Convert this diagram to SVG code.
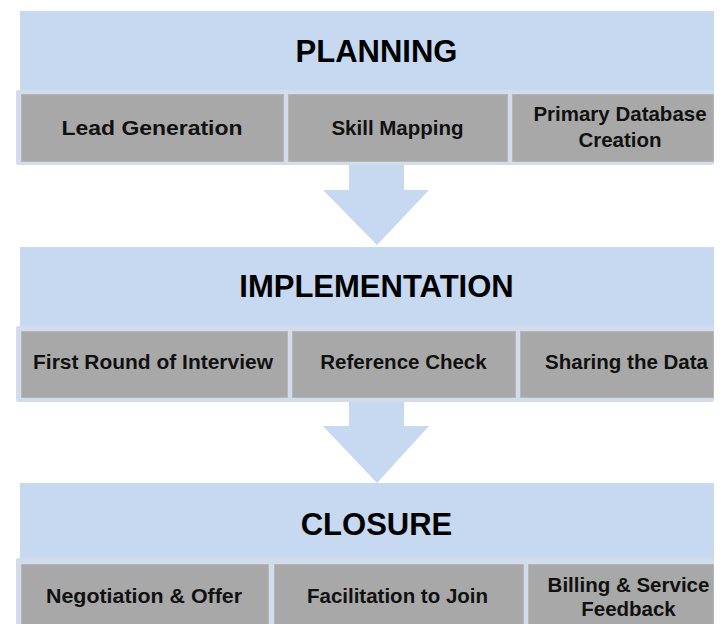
<svg xmlns="http://www.w3.org/2000/svg" width="724" height="624" viewBox="0 0 724 624">
<style>
.hdr{fill:#C6D9F1}
.frame{fill:#D3DCEA}
.box{fill:#A8A8A8;stroke:#B4B6BA;stroke-width:1}
.arrow{fill:#C6D9F1}
.ht{font-family:"Liberation Sans",Arial,sans-serif;font-weight:bold;font-size:31px;fill:#000;text-anchor:middle}
.bt{font-family:"Liberation Sans",Arial,sans-serif;font-weight:bold;font-size:20.5px;fill:#111;text-anchor:middle}
</style>
<rect width="724" height="624" fill="#fff"/>
<g id="connectors">
<path class="arrow" d="M349 160 H404 V190 H429 L377 245 L323 190 H349 Z"/>
<path class="arrow" d="M349 396 H404 V426 H429 L377 483 L323 426 H349 Z"/>
</g>
<g id="planning">
<rect class="hdr" x="20" y="11" width="694" height="83"/>
<text class="ht" x="376.5" y="62">PLANNING</text>
<rect class="frame" x="16" y="90" width="698" height="75" rx="2"/>
</g>
<g id="lead-generation">
<rect class="box" x="21.5" y="94.5" width="262" height="67"/>
<text class="bt" x="152" y="135" textLength="181" lengthAdjust="spacingAndGlyphs">Lead Generation</text>
</g>
<g id="skill-mapping">
<rect class="box" x="288.5" y="94.5" width="219" height="67"/>
<text class="bt" x="397.5" y="135">Skill Mapping</text>
</g>
<g id="primary-database-creation">
<rect class="box" x="512.5" y="94.5" width="201" height="67"/>
<text class="bt" x="620" y="121">Primary Database</text>
<text class="bt" x="620" y="147">Creation</text>
</g>
<g id="implementation">
<rect class="hdr" x="20" y="247" width="694" height="83"/>
<text class="ht" x="376.5" y="297">IMPLEMENTATION</text>
<rect class="frame" x="16" y="326" width="698" height="76" rx="2"/>
</g>
<g id="first-round-of-interview">
<rect class="box" x="21.5" y="331.5" width="266" height="66"/>
<text class="bt" x="153" y="369" textLength="240" lengthAdjust="spacingAndGlyphs">First Round of Interview</text>
</g>
<g id="reference-check">
<rect class="box" x="292.5" y="331.5" width="223" height="66"/>
<text class="bt" x="403.5" y="369">Reference Check</text>
</g>
<g id="sharing-the-data">
<rect class="box" x="520.5" y="331.5" width="193" height="66"/>
<text class="bt" x="626.5" y="369">Sharing the Data</text>
</g>
<g id="closure">
<rect class="hdr" x="20" y="483" width="694" height="80"/>
<text class="ht" x="376.5" y="535">CLOSURE</text>
<rect class="frame" x="16" y="558" width="698" height="70" rx="2"/>
</g>
<g id="negotiation-offer">
<rect class="box" x="21.5" y="564.5" width="247" height="66"/>
<text class="bt" x="144" y="603" textLength="196" lengthAdjust="spacingAndGlyphs">Negotiation &amp; Offer</text>
</g>
<g id="facilitation-to-join">
<rect class="box" x="274.5" y="564.5" width="249" height="66"/>
<text class="bt" x="397.5" y="603">Facilitation to Join</text>
</g>
<g id="billing-service-feedback">
<rect class="box" x="528.5" y="564.5" width="185" height="66"/>
<text class="bt" x="628.5" y="592">Billing &amp; Service</text>
<text class="bt" x="628.5" y="616">Feedback</text>
</g>
</svg>
